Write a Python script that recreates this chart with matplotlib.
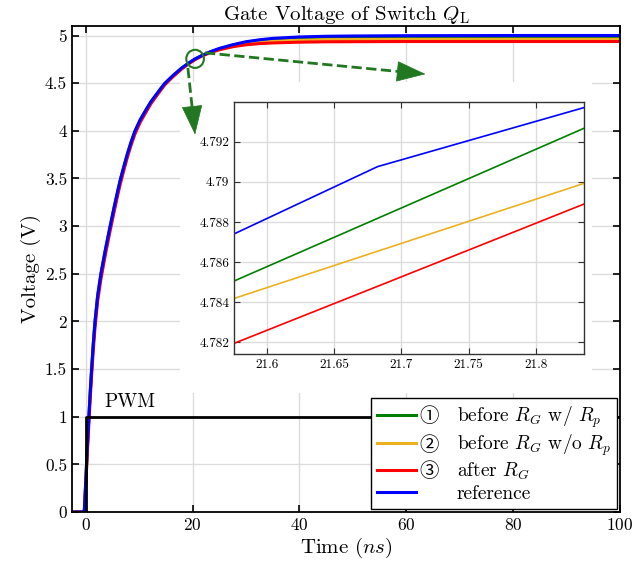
import numpy as np
import matplotlib
matplotlib.use('Agg')
from matplotlib import pyplot as plt
from matplotlib.patches import Rectangle, Ellipse
from matplotlib.ticker import FuncFormatter

plt.rcParams['font.family'] = ['cmr10', 'Noto Sans CJK JP', 'DejaVu Sans']
plt.rcParams['mathtext.fontset'] = 'cm'
plt.rcParams['axes.formatter.use_mathtext'] = True
plt.rcParams['axes.unicode_minus'] = False

# main traces (time in ns, voltage in V)
t_ns = [-2.6, -0.3, 0.0, 0.3, 0.56, 0.8, 1.06, 1.35, 1.69, 2.2, 2.81, 3.6, 4.5, 5.25,
        6.0, 6.5, 7.2, 7.8, 8.5, 9.2, 10.2, 11.4, 12.2, 13.0, 14.0, 14.8, 16.3, 17.95,
        19.2, 20.45, 21.7, 23.3, 25.0, 27.6, 30, 32.5, 35, 40, 45, 50, 60, 80, 100]
v_ref = [0, 0, 0.35, 0.72, 1.0, 1.25, 1.49, 1.74, 1.99, 2.27, 2.5, 2.74, 2.99, 3.19,
         3.38, 3.5, 3.645, 3.765, 3.89, 4.0, 4.12, 4.235, 4.308, 4.368, 4.443, 4.5, 4.58, 4.66,
         4.71, 4.755, 4.79, 4.83, 4.865, 4.905, 4.935, 4.955, 4.97, 4.985, 4.992, 4.995, 4.998, 5.0, 5.0]
v_green = [0, 0, 0.34, 0.71, 0.99, 1.24, 1.48, 1.73, 1.98, 2.26, 2.49, 2.73, 2.98, 3.18,
           3.37, 3.49, 3.637, 3.757, 3.882, 3.993, 4.114, 4.229, 4.303, 4.363, 4.438, 4.496, 4.577, 4.657,
           4.707, 4.752, 4.788, 4.827, 4.861, 4.899, 4.928, 4.948, 4.962, 4.976, 4.983, 4.986, 4.989, 4.99, 4.99]
v_yellow = [0, 0, 0.33, 0.70, 0.98, 1.23, 1.47, 1.72, 1.97, 2.25, 2.48, 2.72, 2.97, 3.17,
            3.365, 3.485, 3.631, 3.751, 3.877, 3.988, 4.11, 4.225, 4.299, 4.36, 4.435, 4.493, 4.574, 4.655,
            4.705, 4.75, 4.7866, 4.824, 4.856, 4.891, 4.915, 4.93, 4.94, 4.951, 4.956, 4.958, 4.96, 4.96, 4.96]
v_red = [0, 0, 0.29, 0.65, 0.93, 1.18, 1.42, 1.67, 1.92, 2.21, 2.44, 2.685, 2.94, 3.14,
         3.335, 3.455, 3.605, 3.727, 3.855, 3.968, 4.092, 4.21, 4.286, 4.348, 4.425, 4.484, 4.567, 4.649,
         4.701, 4.747, 4.7848, 4.82, 4.85, 4.883, 4.903, 4.915, 4.922, 4.93, 4.934, 4.935, 4.937, 4.937, 4.937]
pwm_t = [-2.6, 0, 0, 100]
pwm_v = [0, 0, 1, 1]

# zoomed window
zoom_t = [21.576, 21.6824, 21.836]
zoom_green = [4.78506, 4.78818, 4.79268]
zoom_yellow = [4.78419, 4.78654, 4.78993]
zoom_red = [4.78195, 4.78479, 4.7889]
zoom_ref = [4.78741, 4.79076, 4.79371]

circled = ['\u2460', '\u2461', '\u2462']
labels = ['before $R_G$ w/ $R_p$', 'before $R_G$ w/o $R_p$', 'after $R_G$', 'reference']
colors = ['#008000', '#EDB120', '#FF0000', '#0000FF']
arrow_green = '#217821'

fig = plt.figure(figsize=(6.32, 5.71), dpi=100)
ax = fig.add_axes([0.1139, 0.1033, 0.867, 0.8512])

series = [v_green, v_yellow, v_red, v_ref]
hs = []
for v, c, lab in zip(series, colors, labels):
    h, = ax.plot(t_ns, v, color=c, lw=2.2, label=lab, zorder=2)
    hs.append(h)
ax.plot(pwm_t, pwm_v, color='black', lw=2.0, zorder=3)
ax.text(3.5, 1.1, 'PWM', fontsize=14)

ax.set_xlim(-2.6, 100)
ax.set_ylim(0, 5.1)
ax.set_xticks(np.arange(0, 101, 20))
ax.set_yticks(np.arange(0, 5.01, 0.5))
ax.yaxis.set_major_formatter(FuncFormatter(lambda v, p: '%g' % v))
ax.set_axisbelow(True)
ax.grid(True, color='#dcdcdc', lw=1.0)
ax.tick_params(direction='in', top=True, right=True, labelsize=12.5, length=5, width=1.2)
for s in ax.spines.values():
    s.set_linewidth(1.3)
ax.set_xlabel('Time ($ns$)', fontsize=15, labelpad=2)
ax.set_ylabel('Voltage (V)', fontsize=15, labelpad=3)
ax.set_title('Gate Voltage of Switch $Q_\\mathrm{L}$', fontsize=15, pad=4)

# white backdrop behind inset (covers grid)
ax.add_patch(Rectangle((0.2848, 0.3117), 0.6519, 0.5447, transform=fig.transFigure,
                       facecolor='white', edgecolor='none', zorder=0.8))

# marker circle + dashed arrows
ax.add_patch(Ellipse((20.45, 4.755), 3.3, 0.19, facecolor='none', edgecolor=arrow_green,
                     lw=1.5, zorder=4))
head_kw = dict(arrowstyle='-|>,head_length=1.4,head_width=0.5', color=arrow_green,
               lw=0.5, mutation_scale=14, shrinkA=0, shrinkB=0)
arrows = [((22.3, 4.818), (63.6, 4.595)), ((19.1, 4.66), (20.45, 3.96))]
for (x0, y0), (x1, y1) in arrows:
    xb = x0 + (x1 - x0) * 0.9
    yb = y0 + (y1 - y0) * 0.9
    ax.plot([x0, xb], [y0, yb], ls='--', color=arrow_green, lw=2, zorder=4)
    ax.annotate('', xy=(x1, y1), xytext=(xb, yb), arrowprops=head_kw, zorder=4)

leg = ax.legend(handles=hs, loc='lower right', fontsize=14, frameon=True, fancybox=False,
                edgecolor='black', framealpha=1, handlelength=2.0, handletextpad=2.1,
                labelspacing=0.15, borderaxespad=0.15, borderpad=0.3)
leg.get_frame().set_linewidth(1.0)
leg.set_zorder(5)
for txt, mark in zip(leg.get_texts(), circled):
    ax.annotate(mark, xy=(0, 0.5), xycoords=txt, xytext=(-13, 0), textcoords='offset points',
                ha='right', va='center', fontsize=14, zorder=6)

# inset
axi = fig.add_axes([0.3707, 0.3795, 0.5538, 0.4424])
for v, c in zip([zoom_green, zoom_yellow, zoom_red, zoom_ref], colors):
    axi.plot(zoom_t, v, color=c, lw=1.2)
axi.set_xlim(21.576, 21.836)
axi.set_ylim(4.7814, 4.7940)
axi.set_xticks([21.6, 21.65, 21.7, 21.75, 21.8])
axi.set_yticks([4.782, 4.784, 4.786, 4.788, 4.79, 4.792])
axi.xaxis.set_major_formatter(FuncFormatter(lambda v, p: '%g' % round(v, 3)))
axi.yaxis.set_major_formatter(FuncFormatter(lambda v, p: '%g' % round(v, 4)))
axi.set_axisbelow(True)
axi.grid(True, color='#dcdcdc', lw=1.0)
axi.tick_params(direction='in', top=True, right=True, labelsize=9.5, length=4, width=0.8,
                colors='#333333', labelcolor='black')
for s in axi.spines.values():
    s.set_linewidth(1.0)
    s.set_color('#333333')

fig.canvas.draw()
fig.savefig('out.png', dpi=100)
